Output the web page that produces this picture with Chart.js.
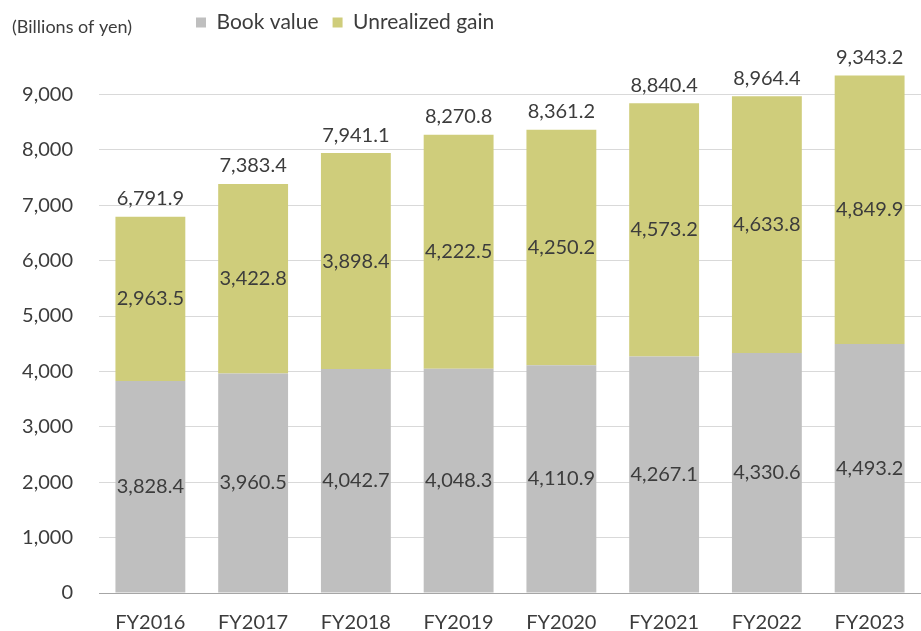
<!DOCTYPE html>
<html lang="en">
<head>
    <meta charset="UTF-8">
    <title>Book value and unrealized gain</title>
    <script src="https://cdn.jsdelivr.net/npm/chart.js"></script>
    <style>
        html, body { margin: 0; padding: 0; background: #fff; }
    </style>
</head>
<body>
    <canvas id="chart" width="921" height="631"></canvas>

    <script>
        const years = ['FY2016', 'FY2017', 'FY2018', 'FY2019', 'FY2020', 'FY2021', 'FY2022', 'FY2023'];
        const bookValue = [3828.4, 3960.5, 4042.7, 4048.3, 4110.9, 4267.1, 4330.6, 4493.2];
        const unrealizedGain = [2963.5, 3422.8, 3898.4, 4222.5, 4250.2, 4573.2, 4633.8, 4849.9];
        const totals = [6791.9, 7383.4, 7941.1, 8270.8, 8361.2, 8840.4, 8964.4, 9343.2];
        const yTicks = [0, 1000, 2000, 3000, 4000, 5000, 6000, 7000, 8000, 9000];

        const FONT = 'Lato, "Open Sans", sans-serif';
        const TEXT = '#3c3c3c';

        function fmt(v) {
            return v.toLocaleString('en-US', { minimumFractionDigits: 1, maximumFractionDigits: 1 });
        }

        // value labels inside each segment, totals above the bars
        const barLabels = {
            id: 'barLabels',
            afterDatasetsDraw(chart) {
                const ctx = chart.ctx;
                ctx.save();
                ctx.font = '20px ' + FONT;
                ctx.fillStyle = TEXT;
                ctx.textAlign = 'center';
                ctx.textBaseline = 'middle';
                chart.data.datasets.forEach((ds, i) => {
                    chart.getDatasetMeta(i).data.forEach((bar, j) => {
                        ctx.fillText(fmt(ds.data[j]), bar.x, (bar.y + bar.base) / 2);
                    });
                });
                const tops = chart.getDatasetMeta(1).data;
                totals.forEach((t, j) => {
                    ctx.fillText(fmt(t), tops[j].x, tops[j].y - 18);
                });
                ctx.restore();
            }
        };

        // unit caption top-left, and nudge the legend into place
        const unitCaption = {
            id: 'unitCaption',
            afterLayout(chart) {
                chart.legend.left = 182;
                chart.legend.top = -2;
            },
            afterDraw(chart) {
                const ctx = chart.ctx;
                ctx.save();
                ctx.font = '18px ' + FONT;
                ctx.fillStyle = TEXT;
                ctx.textAlign = 'left';
                ctx.textBaseline = 'middle';
                ctx.fillText('(Billions of yen)', 12, 27);
                ctx.restore();
            }
        };

        new Chart(document.getElementById('chart'), {
            type: 'bar',
            data: {
                labels: years,
                datasets: [
                    {
                        label: 'Book value',
                        data: bookValue,
                        backgroundColor: '#bfbfbf',
                        barPercentage: 0.68,
                        categoryPercentage: 1
                    },
                    {
                        label: 'Unrealized gain',
                        data: unrealizedGain,
                        backgroundColor: '#cfcd7b',
                        barPercentage: 0.68,
                        categoryPercentage: 1
                    }
                ]
            },
            options: {
                responsive: false,
                animation: false,
                plugins: {
                    legend: {
                        position: 'top',
                        align: 'start',
                        maxHeight: 39,
                        labels: {
                            boxWidth: 10,
                            boxHeight: 10,
                            padding: 14,
                            color: TEXT,
                            font: { family: FONT, size: 21 }
                        }
                    },
                    tooltip: { enabled: false }
                },
                scales: {
                    x: {
                        stacked: true,
                        grid: { display: false },
                        border: { display: false },
                        ticks: { color: TEXT, padding: 10, font: { family: FONT, size: 20 } },
                        afterFit(scale) { scale.height = 38; }
                    },
                    y: {
                        stacked: true,
                        min: 0,
                        max: 10000,
                        afterBuildTicks(scale) {
                            scale.ticks = yTicks.map(v => ({ value: v }));
                        },
                        grid: {
                            drawTicks: false,
                            color: c => c.tick && c.tick.value === 0 ? '#a6a6a6' : '#d9d9d9',
                            lineWidth: 1
                        },
                        border: { display: false },
                        ticks: {
                            color: TEXT,
                            padding: 26,
                            font: { family: FONT, size: 20 },
                            callback: v => v.toLocaleString('en-US')
                        },
                        afterFit(scale) { scale.width = 99; }
                    }
                }
            },
            plugins: [barLabels, unitCaption]
        });
    </script>
</body>
</html>
